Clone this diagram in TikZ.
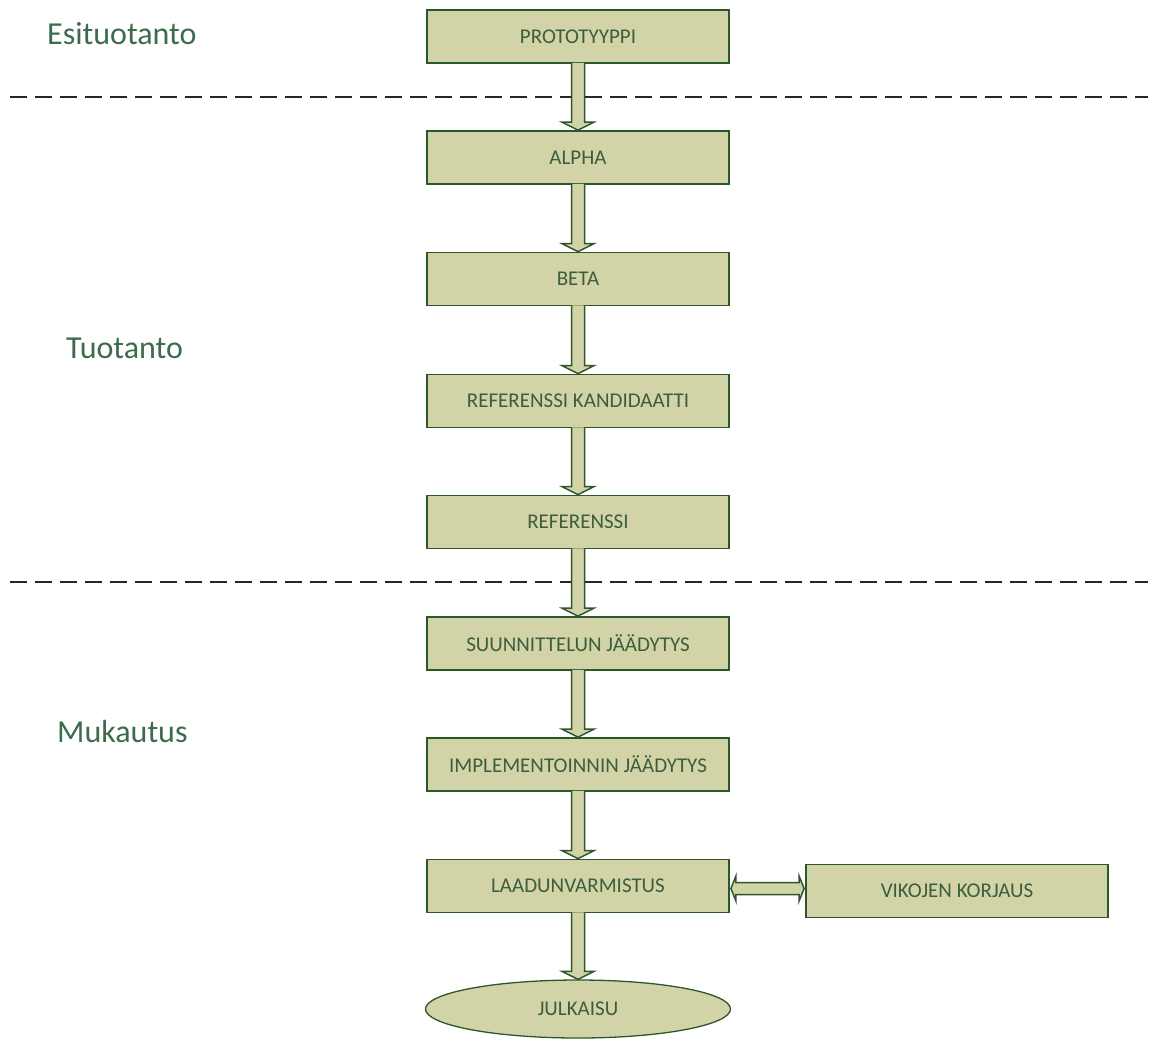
\documentclass[tikz,border=0pt]{standalone}
\usepackage{fontspec}
\setmainfont{Carlito}
\usetikzlibrary{shapes.geometric,calc}
\definecolor{boxfill}{HTML}{D3D3A8}
\definecolor{boxline}{HTML}{2C572D}
\definecolor{boxtext}{HTML}{3C5E3C}
\definecolor{phasetext}{HTML}{3E6B4E}
\tikzset{
  stagebox/.style={draw=boxline, fill=boxfill, line width=1.8pt, minimum width=302pt, minimum height=53pt, inner sep=0pt, text=boxtext, font=\fontsize{21}{24}\selectfont},
  endellipse/.style={ellipse, draw=boxline, fill=boxfill, line width=1.3pt, minimum width=305pt, minimum height=58pt, inner sep=0pt, text=boxtext, font=\fontsize{21}{24}\selectfont},
  blockarrow/.style={draw=boxline, fill=boxfill, line width=1.5pt, line join=miter},
  phase/.style={anchor=west, text=phasetext, font=\fontsize{32}{36}\selectfont, inner sep=0pt},
  divider/.style={draw=black!85, line width=1.6pt, dash pattern=on 17pt off 8pt}
}
\newcommand\downarrowblock[2]{%
  \path[blockarrow] let \p1=(#1.south), \p2=(#2.north) in
    (\x1-6.5pt,\y1+1pt) -- (\x1-6.5pt,\y2+8pt) -- (\x1-16pt,\y2+8pt) -- (\x1,\y2) --
    (\x1+16pt,\y2+8pt) -- (\x1+6.5pt,\y2+8pt) -- (\x1+6.5pt,\y1+1pt);}
\begin{document}
\begin{tikzpicture}[x=1pt,y=-1pt]
\useasboundingbox (0,0) rectangle (1150,1039);
% dividers
\coordinate (d1l) at (10,97);
\coordinate (d1r) at (1148,97);
\coordinate (d2l) at (10,582);
\coordinate (d2r) at (1148,582);
\draw[divider] (d1l) -- (d1r);
\draw[divider] (d2l) -- (d2r);
% phase labels
\node[phase] (esi) at (47,34) {Esituotanto};
\node[phase] (tuo) at (66,348) {Tuotanto};
\node[phase] (muk) at (57,731) {Mukautus};
% stages
\node[stagebox] (proto) at (578,36.5) {PROTOTYYPPI};
\node[stagebox] (alpha) at (578,157.5) {ALPHA};
\node[stagebox] (beta) at (578,279) {BETA};
\node[stagebox] (refk) at (578,401) {REFERENSSI KANDIDAATTI};
\node[stagebox] (ref) at (578,522) {REFERENSSI};
\node[stagebox] (suun) at (578,643.5) {SUUNNITTELUN JÄÄDYTYS};
\node[stagebox] (impl) at (578,764.5) {IMPLEMENTOINNIN JÄÄDYTYS};
\node[stagebox] (laad) at (578,886) {LAADUNVARMISTUS};
\node[stagebox] (vik) at (957,891) {VIKOJEN KORJAUS};
\node[endellipse] (julk) at (578,1009) {JULKAISU};
% arrows
\downarrowblock{proto}{alpha}
\downarrowblock{alpha}{beta}
\downarrowblock{beta}{refk}
\downarrowblock{refk}{ref}
\downarrowblock{ref}{suun}
\downarrowblock{suun}{impl}
\downarrowblock{impl}{laad}
\downarrowblock{laad}{julk}
\path[blockarrow] let \p1=(laad.east), \p2=(vik.west), \n1={(\y1+\y2)/2} in
  (\x1+1pt,\n1) -- (\x1+6pt,\n1-12.5pt) -- (\x1+6pt,\n1-6pt) -- (\x2-6pt,\n1-6pt) --
  (\x2-6pt,\n1-12.5pt) -- (\x2-1pt,\n1) -- (\x2-6pt,\n1+12.5pt) -- (\x2-6pt,\n1+6pt) --
  (\x1+6pt,\n1+6pt) -- (\x1+6pt,\n1+12.5pt) -- cycle;
\end{tikzpicture}
\end{document}
